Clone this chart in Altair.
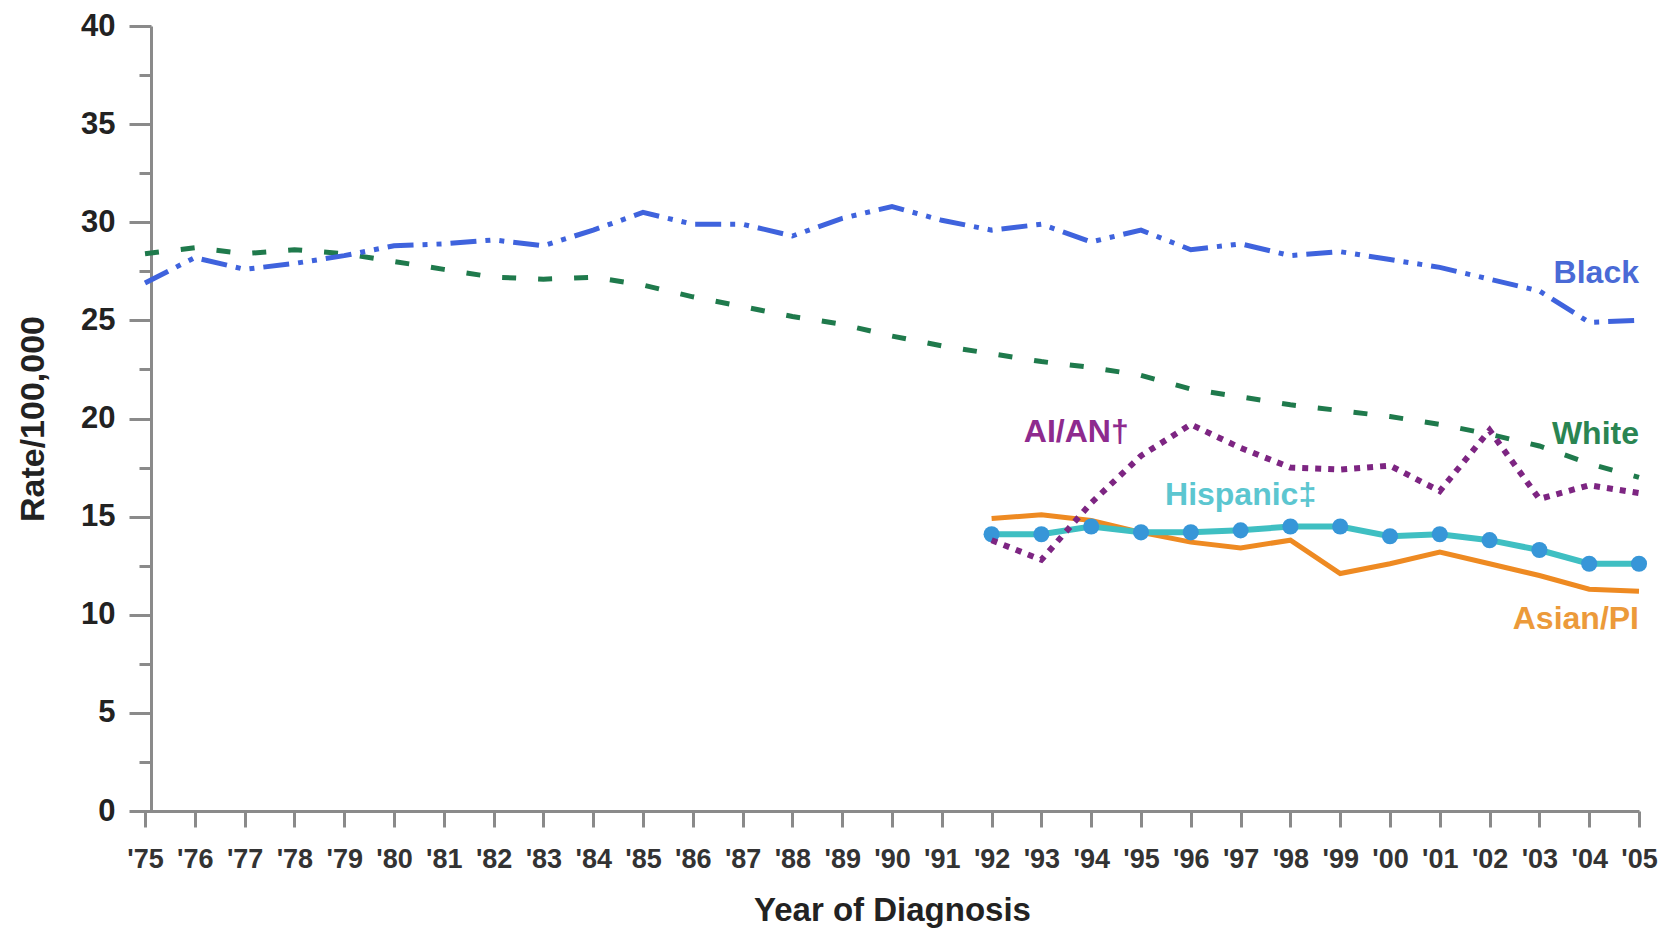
import altair as alt
import pandas as pd

years_all = list(range(1975, 2006))
years_recent = list(range(1992, 2006))

black = [26.9, 28.2, 27.6, 27.9, 28.3, 28.8, 28.9, 29.1, 28.8, 29.6, 30.5, 29.9, 29.9, 29.3, 30.2, 30.8,
         30.1, 29.6, 29.9, 29.0, 29.6, 28.6, 28.9, 28.3, 28.5, 28.1, 27.7, 27.1, 26.5, 24.9, 25.0]
white = [28.4, 28.7, 28.4, 28.6, 28.4, 28.0, 27.6, 27.2, 27.1, 27.2, 26.8, 26.2, 25.7, 25.2, 24.8, 24.2,
         23.7, 23.3, 22.9, 22.6, 22.2, 21.5, 21.1, 20.7, 20.4, 20.1, 19.7, 19.2, 18.6, 17.7, 17.0]
aian = [13.8, 12.8, 15.7, 18.1, 19.7, 18.5, 17.5, 17.4, 17.6, 16.3, 19.4, 15.9, 16.6, 16.2]
hispanic = [14.1, 14.1, 14.5, 14.2, 14.2, 14.3, 14.5, 14.5, 14.0, 14.1, 13.8, 13.3, 12.6, 12.6]
asian = [14.9, 15.1, 14.8, 14.2, 13.7, 13.4, 13.8, 12.1, 12.6, 13.2, 12.6, 12.0, 11.3, 11.2]

label_text = ["Black", "White", "AI/AN\u2020", "Hispanic\u2021", "Asian/PI"]
label_year = [2005, 2005, 1993.7, 1997.0, 2005]
label_rate = [27.4, 19.2, 19.3, 16.1, 9.8]

FONT = "Liberation Sans"

df_black = pd.DataFrame({"year": years_all, "rate": black})
df_white = pd.DataFrame({"year": years_all, "rate": white})
df_aian = pd.DataFrame({"year": years_recent, "rate": aian})
df_hisp = pd.DataFrame({"year": years_recent, "rate": hispanic})
df_asian = pd.DataFrame({"year": years_recent, "rate": asian})
df_lbl = pd.DataFrame({"year": label_year, "rate": label_rate, "text": label_text})

x_enc = alt.X(
    "year:Q",
    scale=alt.Scale(domain=[1975, 2005], nice=False, zero=False),
    axis=alt.Axis(
        values=years_all,
        labelExpr="\"'\" + slice(toString(datum.value), 2)",
        title="Year of Diagnosis",
        grid=False,
        tickSize=16,
        labelPadding=19,
        labelFontSize=27,
        labelFont=FONT,
        labelFontWeight="bold",
        labelColor="#333333",
        labelFlush=False,
        labelBound=False,
        labelOverlap=False,
        titleFontSize=33,
        titleFont=FONT,
        titleFontWeight="bold",
        titleColor="#222222",
        titlePadding=22,
    ),
)
y_enc = alt.Y(
    "rate:Q",
    scale=alt.Scale(domain=[0, 40], nice=False),
    axis=alt.Axis(
        values=[i * 2.5 for i in range(17)],
        labelExpr="datum.value % 5 === 0 ? datum.label : ''",
        title="Rate/100,000",
        grid=False,
        offset=-6,
        tickSize={"condition": {"test": "datum.value % 5 === 0", "value": 22}, "value": 12},
        labelPadding=14,
        labelFontSize=31,
        labelFont=FONT,
        labelFontWeight="bold",
        labelColor="#222222",
        labelFlush=False,
        labelBound=False,
        titleFontSize=34,
        titleFont=FONT,
        titleFontWeight="bold",
        titleColor="#222222",
        titlePadding=30,
    ),
)

line_black = alt.Chart(df_black).mark_line(
    color="#3f63dd", strokeWidth=5, strokeDash=[26, 9, 5, 9, 5, 9]
).encode(x=x_enc, y=y_enc)
line_white = alt.Chart(df_white).mark_line(
    color="#1f7a4c", strokeWidth=5, strokeDash=[14, 22]
).encode(x=x_enc, y=y_enc)
line_asian = alt.Chart(df_asian).mark_line(
    color="#ee8a22", strokeWidth=5
).encode(x=x_enc, y=y_enc)
line_hisp = alt.Chart(df_hisp).mark_line(
    color="#3fbfc2", strokeWidth=6
).encode(x=x_enc, y=y_enc)
pts_hisp = alt.Chart(df_hisp).mark_point(
    shape="circle", filled=True, color="#3796d8", size=260, opacity=1
).encode(x=x_enc, y=y_enc)
line_aian = alt.Chart(df_aian).mark_line(
    color="#7d2582", strokeWidth=6, strokeDash=[6, 7]
).encode(x=x_enc, y=y_enc)

label_colors = ["#4a6ad6", "#2a8552", "#8e2a8e", "#5cc6d0", "#ec9a3a"]
label_aligns = ["right", "right", "center", "center", "right"]
text_layers = []
for i, t in enumerate(label_text):
    text_layers.append(
        alt.Chart(df_lbl[df_lbl["text"] == t]).mark_text(
            align=label_aligns[i], baseline="middle", font=FONT, fontSize=32,
            fontWeight="bold", color=label_colors[i]
        ).encode(x=x_enc, y=y_enc, text="text:N")
    )

chart = alt.layer(
    line_white, line_black, line_asian, line_hisp, pts_hisp, line_aian, *text_layers
).properties(
    width=1494,
    height=785,
    autosize=alt.AutoSizeParams(type="none"),
    padding={"left": 137, "top": 18, "right": 25, "bottom": 117},
).configure_view(stroke=None).configure_axis(
    domainColor="#8a8a8a", domainWidth=3, tickColor="#8a8a8a", tickWidth=3
)

chart.save("out.html", embed_options={"renderer": "svg", "actions": False})
